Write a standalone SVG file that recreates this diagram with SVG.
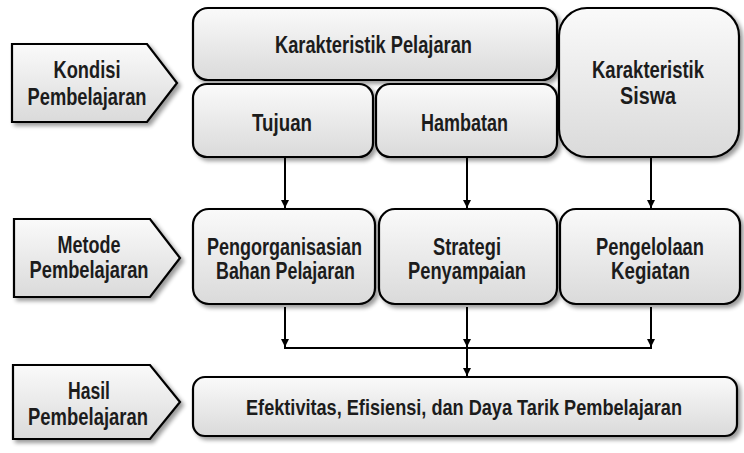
<svg xmlns="http://www.w3.org/2000/svg" width="744" height="453" viewBox="0 0 744 453">
<defs>
<linearGradient id="g" x1="0" y1="0" x2="0" y2="1">
<stop offset="0" stop-color="#fafafa"/>
<stop offset="1" stop-color="#dadada"/>
</linearGradient>
<filter id="sh" x="-10%" y="-10%" width="130%" height="140%">
<feGaussianBlur in="SourceAlpha" stdDeviation="2"/>
<feOffset dx="3" dy="3" result="b"/>
<feComponentTransfer><feFuncA type="linear" slope="0.4"/></feComponentTransfer>
<feMerge><feMergeNode/><feMergeNode in="SourceGraphic"/></feMerge>
</filter>
<marker id="ah" viewBox="0 0 10 10" refX="10" refY="5" markerWidth="4" markerHeight="4" orient="auto">
<path d="M0,0 L10,5 L0,10 z" fill="#000"/>
</marker>
</defs>
<style>
.b{fill:url(#g);stroke:#000;stroke-width:2.2;filter:url(#sh)}
.t{font-family:"Liberation Sans",Arial,sans-serif;font-weight:bold;font-size:23px;fill:#1c1c1c;text-anchor:middle}
.c{fill:none;stroke:#000;stroke-width:2}
</style>
<rect width="744" height="453" fill="#fff"/>
<g id="kondisi"><path class="b" d="M12,44 H147 L177,83 L147,122 H12 Z"/><text class="t" x="87" y="78" textLength="67" lengthAdjust="spacingAndGlyphs">Kondisi</text><text class="t" x="87" y="105" textLength="119" lengthAdjust="spacingAndGlyphs">Pembelajaran</text></g>
<g id="metode"><path class="b" d="M14,219 H150 L180,258 L150,297 H14 Z"/><text class="t" x="89" y="253" textLength="63" lengthAdjust="spacingAndGlyphs">Metode</text><text class="t" x="89" y="278" textLength="119" lengthAdjust="spacingAndGlyphs">Pembelajaran</text></g>
<g id="hasil"><path class="b" d="M13,365 H150 L180,402 L150,439 H13 Z"/><text class="t" x="89" y="399" textLength="42" lengthAdjust="spacingAndGlyphs">Hasil</text><text class="t" x="88" y="425" textLength="120" lengthAdjust="spacingAndGlyphs">Pembelajaran</text></g>
<g id="kpel"><rect class="b" x="193" y="8" width="364" height="72" rx="15"/><text class="t" x="373.5" y="53" textLength="197" lengthAdjust="spacingAndGlyphs">Karakteristik Pelajaran</text></g>
<g id="tujuan"><rect class="b" x="193" y="84" width="180" height="73" rx="14"/><text class="t" x="282" y="131" textLength="60" lengthAdjust="spacingAndGlyphs">Tujuan</text></g>
<g id="hambatan"><rect class="b" x="376" y="84" width="181" height="73" rx="14"/><text class="t" x="464.5" y="131" textLength="87" lengthAdjust="spacingAndGlyphs">Hambatan</text></g>
<g id="ksiswa"><rect class="b" x="559" y="8" width="180" height="149" rx="28"/><text class="t" x="648" y="78" textLength="112" lengthAdjust="spacingAndGlyphs">Karakteristik</text><text class="t" x="648" y="104" textLength="56" lengthAdjust="spacingAndGlyphs">Siswa</text></g>
<g id="pengorg"><rect class="b" x="193" y="209" width="182" height="95" rx="16"/><text class="t" transform="translate(284.5,255) scale(1,1.18)" x="0" y="0" style="font-size:19.5px" textLength="155" lengthAdjust="spacingAndGlyphs">Pengorganisasian</text><text class="t" x="285.5" y="279" textLength="139" lengthAdjust="spacingAndGlyphs">Bahan Pelajaran</text></g>
<g id="strategi"><rect class="b" x="379" y="209" width="178" height="95" rx="16"/><text class="t" x="467" y="255" textLength="68" lengthAdjust="spacingAndGlyphs">Strategi</text><text class="t" x="467" y="279" textLength="118" lengthAdjust="spacingAndGlyphs">Penyampaian</text></g>
<g id="pengelolaan"><rect class="b" x="560" y="209" width="180" height="95" rx="16"/><text class="t" x="650" y="255" textLength="108" lengthAdjust="spacingAndGlyphs">Pengelolaan</text><text class="t" x="650.5" y="279" textLength="79" lengthAdjust="spacingAndGlyphs">Kegiatan</text></g>
<g id="hasilbox"><rect class="b" x="193" y="377" width="544" height="59" rx="12"/><text class="t" transform="translate(464,415) scale(1,1.12)" x="0" y="0" style="font-size:20.5px" textLength="436" lengthAdjust="spacingAndGlyphs">Efektivitas, Efisiensi, dan Daya Tarik Pembelajaran</text></g>
<g id="connectors">
<line class="c" x1="285" y1="158" x2="285" y2="208" marker-end="url(#ah)"/>
<line class="c" x1="467" y1="158" x2="467" y2="208" marker-end="url(#ah)"/>
<line class="c" x1="651" y1="158" x2="651" y2="208" marker-end="url(#ah)"/>
<line class="c" x1="285" y1="307" x2="285" y2="347" marker-end="url(#ah)"/>
<line class="c" x1="467" y1="307" x2="467" y2="347" marker-end="url(#ah)"/>
<line class="c" x1="651" y1="307" x2="651" y2="347" marker-end="url(#ah)"/>
<line class="c" x1="284" y1="348" x2="652" y2="348"/>
<line class="c" x1="467" y1="348" x2="467" y2="376" marker-end="url(#ah)"/>
</g>
</svg>
